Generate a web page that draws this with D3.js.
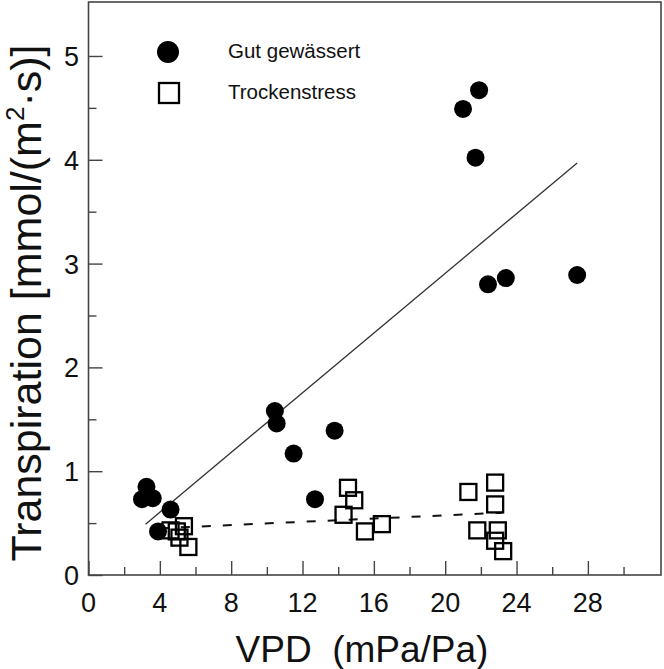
<!DOCTYPE html>
<html><head><meta charset="utf-8">
<script src="https://cdn.jsdelivr.net/npm/d3@7"></script>
<style>body{margin:0;background:#fff}svg{display:block;font-family:"Liberation Sans",Arial,sans-serif}</style>
</head><body>
<svg id="c" width="664" height="669"></svg>
<script>
const wetX = [3.25, 3.0, 3.6, 4.6, 3.9, 10.45, 10.55, 11.5, 12.7, 13.8, 21.0, 21.9, 21.7, 22.4, 23.4, 27.4];
const wetY = [0.85, 0.73, 0.74, 0.63, 0.42, 1.58, 1.46, 1.17, 0.73, 1.39, 4.49, 4.67, 4.02, 2.80, 2.86, 2.89];
const dryX = [4.6, 4.95, 5.35, 5.1, 5.6, 14.55, 14.9, 14.3, 15.5, 16.45, 21.3, 22.8, 22.8, 21.8, 22.95, 22.8, 23.25];
const dryY = [0.43, 0.42, 0.47, 0.36, 0.27, 0.84, 0.72, 0.58, 0.42, 0.49, 0.80, 0.89, 0.68, 0.43, 0.43, 0.33, 0.23];
const wetFitX = [3.2, 27.4];
const wetFitY = [0.49, 3.97];
const dryFitX = [4.0, 23.2];
const dryFitY = [0.45, 0.60];
const xTicks = [0, 4, 8, 12, 16, 20, 24, 28];
const yTicks = [0, 1, 2, 3, 4, 5];
const legendLabels = ["Gut gewässert", "Trockenstress"];

const svg = d3.select("#c");
const x = d3.scaleLinear().domain([0, 32.1]).range([88.5, 661]);
const y = d3.scaleLinear().domain([0, 5.52]).range([575, 2]);
const axisCol = "#444";

// frame
svg.append("rect").attr("x", x(0)).attr("y", y(5.52)).attr("width", x(32.1) - x(0)).attr("height", y(0) - y(5.52))
  .attr("fill", "none").attr("stroke", axisCol).attr("stroke-width", 1.6);

// x axis (ticks inward)
const xMinor = d3.range(2, 32, 4);
const gx = svg.append("g").attr("transform", `translate(0,${y(0)})`);
gx.call(d3.axisTop(x).tickValues(xTicks).tickSize(14).tickFormat(""));
gx.append("g").call(d3.axisTop(x).tickValues(xMinor).tickSize(8).tickFormat(""));
gx.selectAll("path.domain").remove();
gx.selectAll("line").attr("stroke", axisCol).attr("stroke-width", 1.4);
svg.append("g").selectAll("text").data(xTicks).join("text")
  .attr("x", d => x(d)).attr("y", 612).attr("text-anchor", "middle")
  .attr("font-size", 27).attr("fill", "#111").text(d => d);

// y axis
const yMinor = d3.range(0.5, 5.5, 1);
const gy = svg.append("g").attr("transform", `translate(${x(0)},0)`);
gy.call(d3.axisRight(y).tickValues(yTicks).tickSize(14).tickFormat(""));
gy.append("g").call(d3.axisRight(y).tickValues(yMinor).tickSize(8).tickFormat(""));
gy.selectAll("path.domain").remove();
gy.selectAll("line").attr("stroke", axisCol).attr("stroke-width", 1.4);
svg.append("g").selectAll("text").data(yTicks).join("text")
  .attr("x", 79).attr("y", d => y(d) + 10).attr("text-anchor", "end")
  .attr("font-size", 27).attr("fill", "#111").text(d => d);

// axis titles
svg.append("text").attr("x", 362).attr("y", 662).attr("text-anchor", "middle")
  .attr("font-size", 37).attr("fill", "#111").attr("xml:space", "preserve").text("VPD  (mPa/Pa)");
const yt = svg.append("text").attr("transform", "translate(41,303) rotate(-90)")
  .attr("text-anchor", "middle").attr("font-size", 43).attr("fill", "#111");
yt.append("tspan").text("Transpiration [mmol/(m");
yt.append("tspan").attr("font-size", 26).attr("dy", -17).text("2");
yt.append("tspan").attr("dy", 17).text("·s)]");

// fit lines
const line = d3.line().x(d => x(d[0])).y(d => y(d[1]));
svg.append("path").attr("d", line(d3.zip(wetFitX, wetFitY))).attr("fill", "none")
  .attr("stroke", "#333").attr("stroke-width", 1.3);
svg.append("path").attr("d", line(d3.zip(dryFitX, dryFitY))).attr("fill", "none")
  .attr("stroke", "#111").attr("stroke-width", 2).attr("stroke-dasharray", "9,12");

// points
svg.append("g").selectAll("circle").data(d3.zip(wetX, wetY)).join("circle")
  .attr("cx", d => x(d[0])).attr("cy", d => y(d[1])).attr("r", 9).attr("fill", "#000");
const s = 16;
svg.append("g").selectAll("rect").data(d3.zip(dryX, dryY)).join("rect")
  .attr("x", d => x(d[0]) - s / 2).attr("y", d => y(d[1]) - s / 2).attr("width", s).attr("height", s)
  .attr("fill", "none").attr("stroke", "#000").attr("stroke-width", 2.3);

// legend
svg.append("circle").attr("cx", 168).attr("cy", 52).attr("r", 11).attr("fill", "#000");
svg.append("rect").attr("x", 159).attr("y", 83).attr("width", 20).attr("height", 20)
  .attr("fill", "none").attr("stroke", "#000").attr("stroke-width", 2.3);
svg.append("g").selectAll("text").data(legendLabels).join("text")
  .attr("x", 228).attr("y", (d, i) => 58 + i * 41).attr("font-size", 20.5).attr("fill", "#111").text(d => d);
</script>
</body></html>
